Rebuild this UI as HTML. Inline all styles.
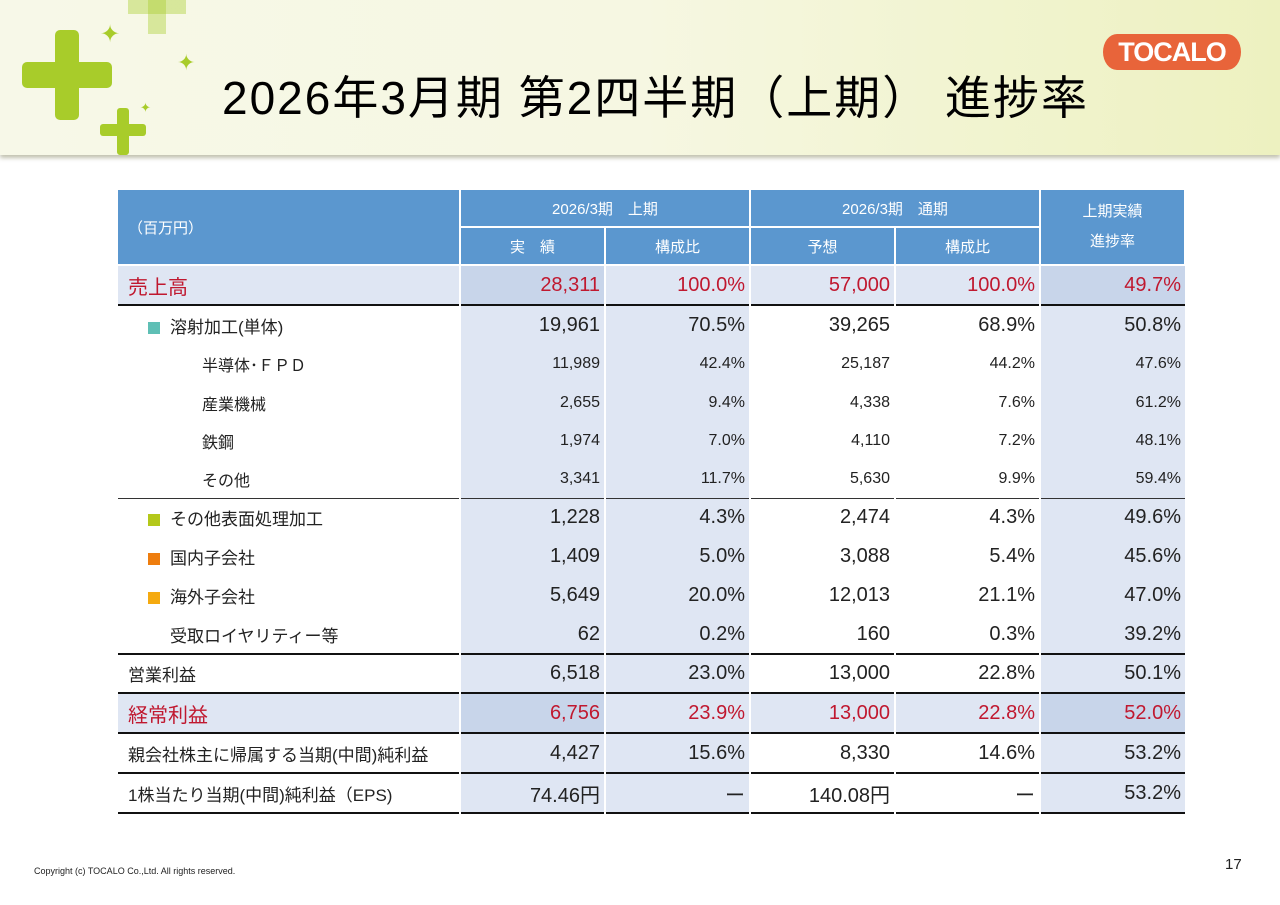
<!DOCTYPE html>
<html><head><meta charset="utf-8"><style>
body{margin:0;width:1280px;height:905px;position:relative;background:#fff;font-family:"Liberation Sans","Noto Sans CJK JP",sans-serif;overflow:hidden}
#band{position:absolute;left:0;top:0;width:1280px;height:155px;background:linear-gradient(90deg,#f7f8e8 0%,#f6f7e2 50%,#edf1c0 100%);box-shadow:0 3px 4px rgba(120,120,80,.45)}
#title{position:absolute;left:222px;top:62px;font-size:46px;color:#000;letter-spacing:2px;white-space:nowrap}
#logo{position:absolute;left:1103px;top:34px;width:138px;height:36px;background:#e8643a;border-radius:14px/18px;color:#fff;font-weight:bold;font-size:27px;text-align:center;line-height:36px;letter-spacing:-1px}
.plus{position:absolute;background:#a8cc2a}
table{position:absolute;left:118px;top:188px;border-collapse:collapse;table-layout:fixed}
td{padding:0 4px;font-size:20px;color:#222;white-space:nowrap;border-left:2px solid #fff;font-family:"Liberation Sans Narrow","Liberation Sans","Noto Sans CJK JP",sans-serif;text-align:right}
td.l{text-align:left;border-left:none;font-family:"Liberation Sans","Noto Sans CJK JP",sans-serif;font-size:17px;padding-left:10px}
th{background:#5b97cf;color:#fff;font-weight:normal;font-size:15px;border:2px solid #fff;font-family:"Liberation Sans","Noto Sans CJK JP",sans-serif}
.b{background:#dfe6f3}.d{background:#c8d5ea}
.red td{color:#c0182f}
.sm td{font-size:16px}
.sm td.l{font-size:16px;padding-left:84px}
.tk td{border-top:2px solid #111}
.tn td{border-top:1.5px solid #333}
.sq{display:inline-block;width:12px;height:12px;margin:0 10px 0 20px;vertical-align:-1px}
#copy{position:absolute;left:34px;top:866px;font-size:9px;color:#222}
#pg{position:absolute;left:1225px;top:856px;font-size:15px;color:#222}
</style></head><body>
<div id="band"></div>
<div class="plus" style="left:22px;top:62px;width:90px;height:26px;border-radius:5px"></div>
<div class="plus" style="left:55px;top:30px;width:24px;height:90px;border-radius:5px"></div>
<div class="plus" style="left:100px;top:124px;width:46px;height:12px;border-radius:3px"></div>
<div class="plus" style="left:117px;top:108px;width:12px;height:47px;border-radius:3px"></div>
<div class="plus" style="left:128px;top:0;width:58px;height:14px;opacity:.4"></div>
<div class="plus" style="left:148px;top:0;width:18px;height:34px;opacity:.4"></div>
<div style="position:absolute;left:100px;top:20px;color:#a8cc2a;font-size:24px">✦</div>
<div style="position:absolute;left:177px;top:50px;color:#a8cc2a;font-size:22px">✦</div>
<div style="position:absolute;left:140px;top:100px;color:#a8cc2a;font-size:13px">✦</div>
<div id="title">2026年3月期 第2四半期（上期） 進捗率</div>
<div id="logo">TOCALO</div>

<table>
<colgroup><col style="width:342px"><col style="width:145px"><col style="width:145px"><col style="width:145px"><col style="width:145px"><col style="width:145px"></colgroup>
<tr style="height:38px"><th rowspan="2" style="text-align:left;padding-left:10px;border-left:none">（百万円）</th><th colspan="2">2026/3期　上期</th><th colspan="2">2026/3期　通期</th><th rowspan="2" style="line-height:30px">上期実績<br>進捗率</th></tr>
<tr style="height:38px"><th>実　績</th><th>構成比</th><th>予想</th><th>構成比</th></tr>

<tr class="red tk" style="height:40px"><td class="l b" style="font-size:20px">売上高</td><td class="d">28,311</td><td class="b">100.0%</td><td class="b">57,000</td><td class="b">100.0%</td><td class="d">49.7%</td></tr>
<tr class="tk" style="height:40px"><td class="l"><span class="sq" style="background:#5fbfb5"></span>溶射加工(単体)</td><td class="b">19,961</td><td class="b">70.5%</td><td>39,265</td><td>68.9%</td><td class="b">50.8%</td></tr>
<tr class="sm" style="height:38px"><td class="l">半導体･ＦＰＤ</td><td class="b">11,989</td><td class="b">42.4%</td><td>25,187</td><td>44.2%</td><td class="b">47.6%</td></tr>
<tr class="sm" style="height:39px"><td class="l">産業機械</td><td class="b">2,655</td><td class="b">9.4%</td><td>4,338</td><td>7.6%</td><td class="b">61.2%</td></tr>
<tr class="sm" style="height:38px"><td class="l">鉄鋼</td><td class="b">1,974</td><td class="b">7.0%</td><td>4,110</td><td>7.2%</td><td class="b">48.1%</td></tr>
<tr class="sm" style="height:38px"><td class="l">その他</td><td class="b">3,341</td><td class="b">11.7%</td><td>5,630</td><td>9.9%</td><td class="b">59.4%</td></tr>
<tr class="tn" style="height:39px"><td class="l"><span class="sq" style="background:#b4c81a"></span>その他表面処理加工</td><td class="b">1,228</td><td class="b">4.3%</td><td>2,474</td><td>4.3%</td><td class="b">49.6%</td></tr>
<tr style="height:39px"><td class="l"><span class="sq" style="background:#ee7d0e"></span>国内子会社</td><td class="b">1,409</td><td class="b">5.0%</td><td>3,088</td><td>5.4%</td><td class="b">45.6%</td></tr>
<tr style="height:39px"><td class="l"><span class="sq" style="background:#f5aa10"></span>海外子会社</td><td class="b">5,649</td><td class="b">20.0%</td><td>12,013</td><td>21.1%</td><td class="b">47.0%</td></tr>
<tr style="height:39px"><td class="l" style="padding-left:52px">受取ロイヤリティー等</td><td class="b">62</td><td class="b">0.2%</td><td>160</td><td>0.3%</td><td class="b">39.2%</td></tr>
<tr class="tk" style="height:39px"><td class="l">営業利益</td><td class="b">6,518</td><td class="b">23.0%</td><td>13,000</td><td>22.8%</td><td class="b">50.1%</td></tr>
<tr class="red tk" style="height:40px"><td class="l b" style="font-size:20px">経常利益</td><td class="d">6,756</td><td class="b">23.9%</td><td class="b">13,000</td><td class="b">22.8%</td><td class="d">52.0%</td></tr>
<tr class="tk" style="height:40px"><td class="l">親会社株主に帰属する当期(中間)純利益</td><td class="b">4,427</td><td class="b">15.6%</td><td>8,330</td><td>14.6%</td><td class="b">53.2%</td></tr>
<tr class="tk" style="height:40px;border-bottom:2px solid #111"><td class="l">1株当たり当期(中間)純利益（EPS)</td><td class="b">74.46円</td><td class="b">ー</td><td>140.08円</td><td>ー</td><td class="b">53.2%</td></tr>
</table>
<div id="copy">Copyright (c) TOCALO Co.,Ltd. All rights reserved.</div>
<div id="pg">17</div>
</body></html>
